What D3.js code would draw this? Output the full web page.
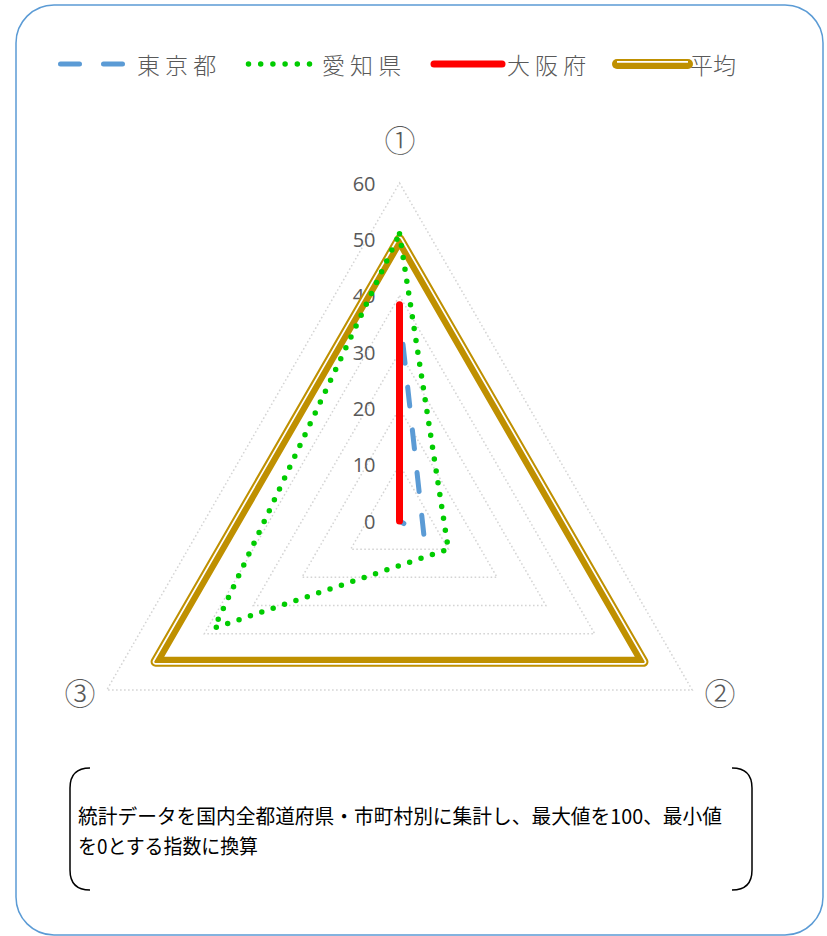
<!DOCTYPE html>
<html><head><meta charset="utf-8">
<script src="https://cdn.jsdelivr.net/npm/d3@7"></script>
<style>html,body{margin:0;padding:0;background:#fff;}svg{display:block;}</style>
</head><body>
<svg id="chart" width="827" height="936"></svg>
<script>
// ---- data ----
const categories = ["①", "②", "③"];
const seriesNames = ["東 京 都", "愛 知 県", "大 阪 府", "平均"];
const tokyo = [37, 5, 0];
const aichi = [51, 10, 38];
const osaka = [38.4, 0, 0];
const average = [50, 50, 50];
const tickValues = [0, 10, 20, 30, 40, 50, 60];
const gridLevels = [10, 20, 30, 40, 50, 60];
const noteLines = ["統計データを国内全都道府県・市町村別に集計し、最大値を100、最小値", "を0とする指数に換算"];

// ---- layout ----
const svg = d3.select("#chart");
const cx = 399.5, cy = 521, R = 338;
const r = d3.scaleLinear().domain([0, 60]).range([0, R]);
const ang = d3.scalePoint().domain(d3.range(categories.length)).range([0, 2 * Math.PI * (categories.length - 1) / categories.length]);
const radial = d3.lineRadial().angle((d, i) => ang(i)).radius(d => r(d)).curve(d3.curveLinearClosed);
const grey = "#595959";

// outer frame
svg.append("rect").attr("x", 16).attr("y", 5).attr("width", 807).attr("height", 930)
  .attr("rx", 38).attr("ry", 38).attr("fill", "none").attr("stroke", "#5b9bd5").attr("stroke-width", 1.5);

const g = svg.append("g").attr("transform", `translate(${cx},${cy})`);

// grid
g.selectAll("path.grid").data(gridLevels).join("path").attr("class", "grid")
  .attr("d", v => radial(categories.map(() => v)))
  .attr("fill", "none").attr("stroke", "#d4d4d4").attr("stroke-width", 1.5).attr("stroke-dasharray", "1.6 2.4");

// tick labels
g.selectAll("text.tick").data(tickValues).join("text").attr("class", "tick")
  .attr("x", -24).attr("y", v => -r(v)).attr("text-anchor", "end").attr("dominant-baseline", "central")
  .attr("font-family", "'Open Sans', sans-serif").attr("font-size", 20).attr("fill", grey).text(v => v);

// axis labels
const labelPos = [[0.5, -383], [320.5, 170], [-319.5, 170]];
g.selectAll("text.cat").data(categories).join("text").attr("class", "cat")
  .attr("x", (d, i) => labelPos[i][0]).attr("y", (d, i) => labelPos[i][1])
  .attr("text-anchor", "middle").attr("dominant-baseline", "central")
  .attr("font-family", "'Noto Sans CJK JP', sans-serif").attr("font-weight", 300).attr("font-size", 31).attr("fill", grey).text(d => d);

// round offset of a convex closed polygon (clockwise on screen)
function offsetPath(vals, d) {
  const pts = vals.map((v, i) => d3.pointRadial(ang(i), r(v)));
  const n = pts.length;
  const normals = pts.map((p, i) => {
    const q = pts[(i + 1) % n];
    const ex = q[0] - p[0], ey = q[1] - p[1], L = Math.hypot(ex, ey);
    return [ey / L, -ex / L];
  });
  let s = "";
  for (let i = 0; i < n; i++) {
    const p = pts[i], q = pts[(i + 1) % n], nn = normals[i], nx = normals[(i + 1) % n];
    const a = [p[0] + d * nn[0], p[1] + d * nn[1]], b = [q[0] + d * nn[0], q[1] + d * nn[1]];
    const c = [q[0] + d * nx[0], q[1] + d * nx[1]];
    s += (i === 0 ? "M" : "L") + a[0] + "," + a[1] + "L" + b[0] + "," + b[1] + `A${d},${d} 0 0 1 ${c[0]},${c[1]}`;
  }
  return s + "Z";
}

// average (compound line)
g.append("path").attr("d", radial(average)).attr("fill", "none").attr("stroke", "#bf9000")
  .attr("stroke-width", 10).attr("stroke-linejoin", "round");
g.append("path").attr("d", offsetPath(average, 2.1)).attr("fill", "none").attr("stroke", "#fff")
  .attr("stroke-width", 1.7);

// tokyo
g.append("path").attr("d", radial(tokyo)).attr("fill", "none").attr("stroke", "#5b9bd5")
  .attr("stroke-width", 5).attr("stroke-linecap", "round").attr("stroke-linejoin", "round")
  .attr("stroke-dasharray", "19 24").attr("stroke-dashoffset", 11);
// aichi
g.append("path").attr("d", radial(aichi)).attr("fill", "none").attr("stroke", "#00cc00")
  .attr("stroke-width", 5.5).attr("stroke-linecap", "round").attr("stroke-dasharray", "0 12");
// osaka
g.append("path").attr("d", radial(osaka)).attr("fill", "none").attr("stroke", "#ff0000")
  .attr("stroke-width", 7).attr("stroke-linecap", "round").attr("stroke-linejoin", "round");

// ---- legend ----
const ly = 64;
const lg = svg.append("g");
lg.append("line").attr("x1", 60.5).attr("x2", 122.5).attr("y1", ly).attr("y2", ly).attr("stroke", "#5b9bd5")
  .attr("stroke-width", 5).attr("stroke-linecap", "round").attr("stroke-dasharray", "19 24");
lg.append("line").attr("x1", 248.5).attr("x2", 309.6).attr("y1", ly).attr("y2", ly).attr("stroke", "#00cc00")
  .attr("stroke-width", 5.5).attr("stroke-linecap", "round").attr("stroke-dasharray", "0 12.2");
lg.append("line").attr("x1", 434).attr("x2", 502).attr("y1", ly).attr("y2", ly).attr("stroke", "#ff0000")
  .attr("stroke-width", 7).attr("stroke-linecap", "round");
lg.append("line").attr("x1", 617).attr("x2", 688).attr("y1", ly).attr("y2", ly).attr("stroke", "#bf9000")
  .attr("stroke-width", 10).attr("stroke-linecap", "round");
lg.append("line").attr("x1", 617).attr("x2", 688).attr("y1", ly - 2.1).attr("y2", ly - 2.1).attr("stroke", "#fff")
  .attr("stroke-width", 1.7);
const legendX = [137, 322, 507, 690];
lg.selectAll("text").data(seriesNames).join("text")
  .attr("x", (d, i) => legendX[i]).attr("y", ly).attr("dominant-baseline", "central")
  .attr("font-family", "'Noto Sans CJK JP', sans-serif").attr("font-weight", 300).attr("font-size", 23).attr("fill", grey)
  .style("white-space", "pre").text(d => d);

// ---- note box ----
svg.append("path").attr("d", "M90,768 Q70,768 70,788 L70,870 Q70,890 90,890")
  .attr("fill", "none").attr("stroke", "#000").attr("stroke-width", 1.5);
svg.append("path").attr("d", "M732,768 Q752,768 752,788 L752,870 Q752,890 732,890")
  .attr("fill", "none").attr("stroke", "#000").attr("stroke-width", 1.5);
const noteLen = [644, 180];
svg.selectAll("text.note").data(noteLines).join("text").attr("class", "note")
  .attr("x", 78).attr("y", (d, i) => 815 + i * 30).attr("dominant-baseline", "central")
  .attr("font-family", "'Noto Sans CJK JP', sans-serif").attr("font-size", 20).attr("fill", "#000")
  .attr("textLength", (d, i) => noteLen[i]).attr("lengthAdjust", "spacingAndGlyphs").text(d => d);
</script>
</body></html>
